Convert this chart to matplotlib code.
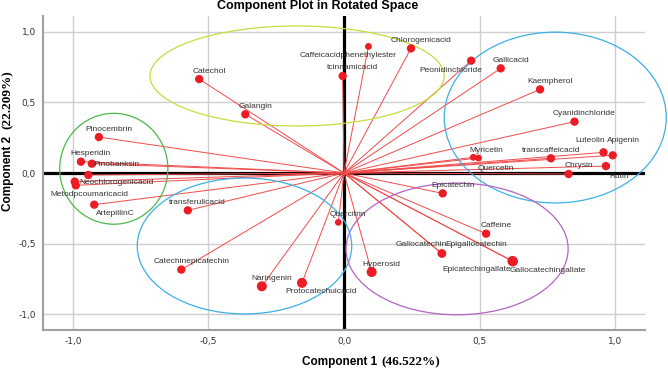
import matplotlib.pyplot as plt
from matplotlib.patches import Ellipse

# loadings
names = ['Catechol', 'Galangin', 'Pinocembrin', 'Hesperidin', 'Pinobanksin', '',
         'Neochlorogenicacid', 'Metodpcoumaricacid', 'ArtepillinC', 'transferulicacid',
         'Catechinepicatechin', 'Naringenin', 'Protocatechuicacid', 'Quercitrin', 'Hyperosid',
         'Epicatechin', 'Caffeine', 'Gallocatechin', 'Epigallocatechin', 'Epicatechingallate',
         'Gallocatechingallate', 'Caffeicacidphenethylester', 'tcinnamicacid', 'Chlorogenicacid',
         'Peonidinchloride', 'Gallicacid', 'Kaempherol', 'Cyanidinchloride', 'Luteolin',
         'Apigenin', 'Myricetin', 'Quercetin', 'transcaffeicacid', 'Chrysin', 'Rutin']
comp1 = [-0.534, -0.364, -0.904, -0.970, -0.930, -0.943, -0.993, -0.989, -0.921, -0.576,
         -0.600, -0.303, -0.155, -0.021, 0.102, 0.364, 0.524, 0.360, 0.362, 0.621,
         0.623, 0.090, -0.005, 0.247, 0.469, 0.578, 0.723, 0.850, 0.957,
         0.991, 0.477, 0.496, 0.763, 0.828, 0.966]
comp2 = [0.664, 0.415, 0.254, 0.080, 0.066, -0.014, -0.061, -0.087, -0.224, -0.264,
         -0.683, -0.801, -0.777, -0.349, -0.700, -0.144, -0.429, -0.568, -0.570, -0.622,
         -0.625, 0.895, 0.686, 0.881, 0.794, 0.740, 0.591, 0.363, 0.146,
         0.125, 0.111, 0.106, 0.104, -0.007, 0.049]
ticks = [-1.0, -0.5, 0.0, 0.5, 1.0]
tick_labels = ['-1,0', '-0,5', '0,0', '0,5', '1,0']

# label placement (pixel offsets from the dot), default is up-right
label_pos = {
    'Pinobanksin': (25, -1, 'center'),
    'Neochlorogenicacid': (42, -1, 'center'),
    'Metodpcoumaricacid': (14, -9, 'center'),
    'ArtepillinC': (21, -9, 'center'),
    'Protocatechuicacid': (19, -9, 'center'),
    'Gallocatechin': (5, 9, 'right'),
    'Epigallocatechin': (3, 9, 'left'),
    'Epicatechingallate': (-1, -9, 'right'),
    'Gallocatechingallate': (-3, -9, 'left'),
    'Caffeicacidphenethylester': (-20, -9, 'center'),
    'Peonidinchloride': (-20, -10, 'center'),
    'Luteolin': (-13, 12, 'center'),
    'Apigenin': (11, 15, 'center'),
    'Myricetin': (13, 7, 'center'),
    'Quercetin': (17, -10, 'center'),
    'transcaffeicacid': (0, 8, 'center'),
    'Rutin': (13, -10, 'center'),
}
big = {'Naringenin', 'Protocatechuicacid', 'Hyperosid', 'Epicatechingallate', 'Gallocatechingallate'}
small = {'Caffeicacidphenethylester', 'Quercitrin', 'Myricetin', 'Quercetin'}

red = '#ec1c24'
fig = plt.figure(figsize=(6.68, 3.70), dpi=100)
ax = fig.add_axes([43 / 668, 40 / 370, 602 / 668, 314 / 370])
ax.set_xlim(-1.11, 1.11)
ax.set_ylim(-1.11, 1.11)

for t in [-1.0, -0.5, 0.5, 1.0]:
    ax.axvline(t, color='#cfcfcf', lw=1, zorder=0)
    ax.axhline(t, color='#cfcfcf', lw=1, zorder=0)
ax.axvline(0, color='black', lw=2.3, zorder=1)
ax.axhline(0, color='black', lw=2.3, zorder=1)

for x, y in zip(comp1, comp2):
    ax.plot([0, x], [0, y], color='#f24a4a', lw=0.7, zorder=2)

ellipses = [((-0.173, 0.686), 1.085, 0.707, '#c6dc3c'),
            ((0.779, 0.392), 0.819, 1.208, '#3cb0e6'),
            ((-0.849, 0.030), 0.399, 0.784, '#4cb84c'),
            ((-0.367, -0.516), 0.791, 0.961, '#3cb0e6'),
            ((0.417, -0.537), 0.819, 0.931, '#b464c4')]
for c, w, h, col in ellipses:
    ax.add_patch(Ellipse(c, w, h, fill=False, edgecolor=col, lw=0.9, clip_on=False, zorder=3))

sizes = [52 if n in big else 24 if n in small else 36 for n in names]
ax.scatter(comp1, comp2, s=sizes, color=red, edgecolors='none', zorder=4)

for n, x, y in zip(names, comp1, comp2):
    if not n:
        continue
    dx, dy, ha = label_pos.get(n, (10, 8, 'center'))
    ax.annotate(n, (x, y), xytext=(dx, dy), textcoords='offset pixels',
                ha=ha, va='center', fontsize=6, family='Liberation Sans',
                color='#333333', zorder=5)

for s in ['top', 'right']:
    ax.spines[s].set_visible(False)
for s in ['left', 'bottom']:
    ax.spines[s].set_color('#a0a0a0')
    ax.spines[s].set_linewidth(1.5)
ax.set_xticks(ticks)
ax.set_xticklabels(tick_labels)
ax.set_yticks(ticks)
ax.set_yticklabels(tick_labels)
ax.tick_params(length=0, labelsize=6.5, colors='#333333', pad=5)

fig.text(318 / 668, 1 - 6 / 370, 'Component Plot in Rotated Space', ha='center', va='center',
         fontsize=9, fontweight='bold', family='Liberation Sans')
fig.text(380 / 668, 8 / 370, 'Component 1 ', ha='right', va='center',
         fontsize=8.5, fontweight='bold', family='Liberation Sans')
fig.text(381 / 668, 8 / 370, '(46.522%)', ha='left', va='center',
         fontsize=9.5, fontweight='bold', family='Liberation Serif')
fig.text(8 / 668, 1 - 172 / 370, 'Component 2 ', ha='center', va='center', rotation=90,
         fontsize=8.5, fontweight='bold', family='Liberation Sans')
fig.text(8 / 668, 1 - 100 / 370, '(22.209%)', ha='center', va='center', rotation=90,
         fontsize=9.5, fontweight='bold', family='Liberation Serif')

plt.savefig('out.png', dpi=100)
